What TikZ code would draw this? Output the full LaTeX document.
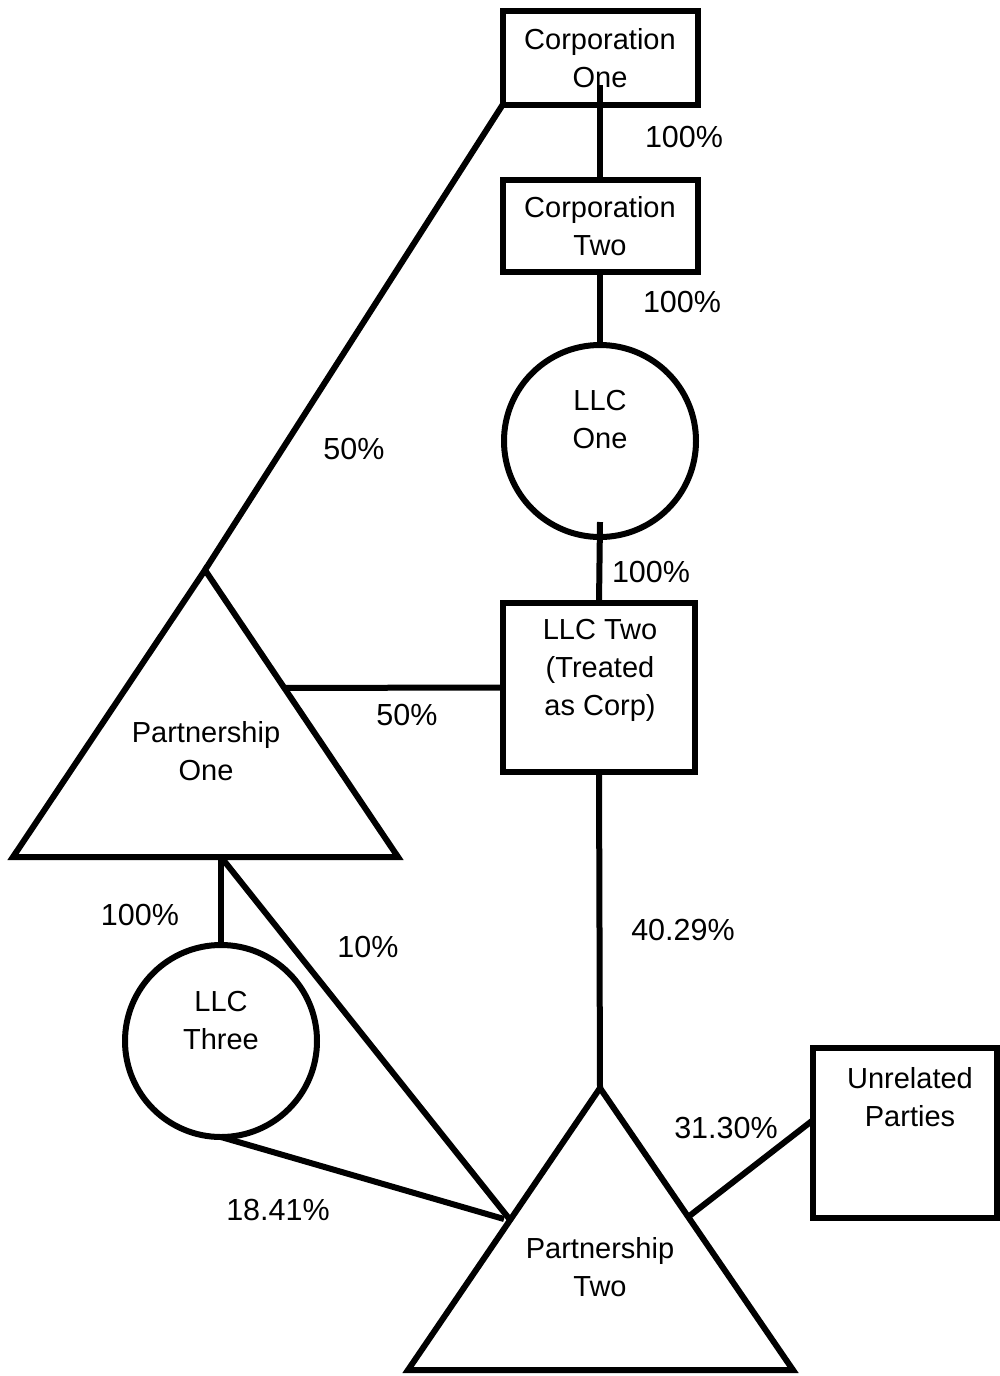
\documentclass[tikz,border=0pt]{standalone}
\usepackage{fontspec}
\setmainfont{Liberation Sans}
\usetikzlibrary{calc}
\begin{document}
\begin{tikzpicture}[x=1pt,y=-1pt,
  every node/.style={font=\fontsize{29}{38}\selectfont, inner sep=0pt, outer sep=0pt},
  ln/.style={line width=6pt},
  boxnode/.style={draw, line width=6pt, rectangle},
  circnode/.style={draw, line width=6pt, circle, minimum size=192pt},
  txt/.style={align=center},
  pct/.style={font=\fontsize{30.5}{38}\selectfont}]
\useasboundingbox (0,0) rectangle (999,1376);

% boxes and circles
\node[boxnode, txt, minimum width=195pt, minimum height=94pt] (c1) at (600,58) {Corporation\\One};
\node[boxnode, txt, minimum width=195pt, minimum height=92pt] (c2) at (600,226) {Corporation\\Two};
\node[circnode] (llc1) at (600,441) {};
\node[txt] (llc1t) at (600,420) {LLC\\One};
\node[boxnode, minimum width=192pt, minimum height=169pt] (llc2) at (599,687.5) {};
\node[txt] (llc2t) at (600,670) {LLC Two\\(Treated\\as Corp)};
\node[boxnode, minimum width=184pt, minimum height=170pt] (unrel) at (905,1133) {};
\node[txt] (unrelt) at (910,1097.5) {Unrelated\\Parties};
\node[circnode] (llc3) at (221,1041) {};
\node[txt] (llc3t) at (221,1021) {LLC\\Three};

% triangles
\coordinate (p1top) at (205,570);
\coordinate (p1l) at (13,857);
\coordinate (p1r) at (398,857);
\draw[ln, line join=miter] (p1top) -- (p1l) -- (p1r) -- cycle;
\node[txt] (p1t) at (206,751) {Partnership\\One};

\coordinate (p2top) at (600,1088);
\coordinate (p2l) at (408,1370);
\coordinate (p2r) at (793,1370);
\draw[ln, line join=miter] (p2top) -- (p2l) -- (p2r) -- cycle;
\node[txt] (p2t) at (600,1267) {Partnership\\Two};

% connection points
\coordinate (p1e) at ($(p1top)!0.411!(p1r)$);
\coordinate (p1b) at (221,857);
\coordinate (p2w) at ($(p2top)!0.468!(p2l)$);
\coordinate (p2w2) at (504,1219);
\coordinate (p2e) at ($(p2top)!0.457!(p2r)$);
\coordinate (unrelw) at ($(unrel.north west)!0.424!(unrel.south west)$);
\coordinate (c1in) at (600,85);
\coordinate (llc1in) at (600,522);

% connectors
\draw[ln] (c1.south west) -- (p1top);
\draw[ln] (c1in) -- (c2.north);
\draw[ln] (c2.south) -- (llc1.north);
\draw[ln] (llc1in) -- (llc2.north);
\draw[ln] (llc2.south) -- (p2top);
\draw[ln] (p1e) -- (llc2.west);
\draw[ln] (p1b) -- (llc3.north);
\draw[ln] (p1b) -- (p2w);
\draw[ln] (llc3.south) -- (p2w2);
\draw[ln] (p2e) -- (unrelw);

% labels
\node[pct] (l1) at (684,137) {100\%};
\node[pct] (l2) at (682,302) {100\%};
\node[pct] (l3) at (651,572) {100\%};
\node[pct] (l4) at (354,449) {50\%};
\node[pct] (l5) at (407,715) {50\%};
\node[pct] (l6) at (140,915) {100\%};
\node[pct] (l7) at (368,947) {10\%};
\node[pct] (l8) at (683,930) {40.29\%};
\node[pct] (l9) at (726,1128) {31.30\%};
\node[pct] (l10) at (278,1210) {18.41\%};
\end{tikzpicture}
\end{document}
